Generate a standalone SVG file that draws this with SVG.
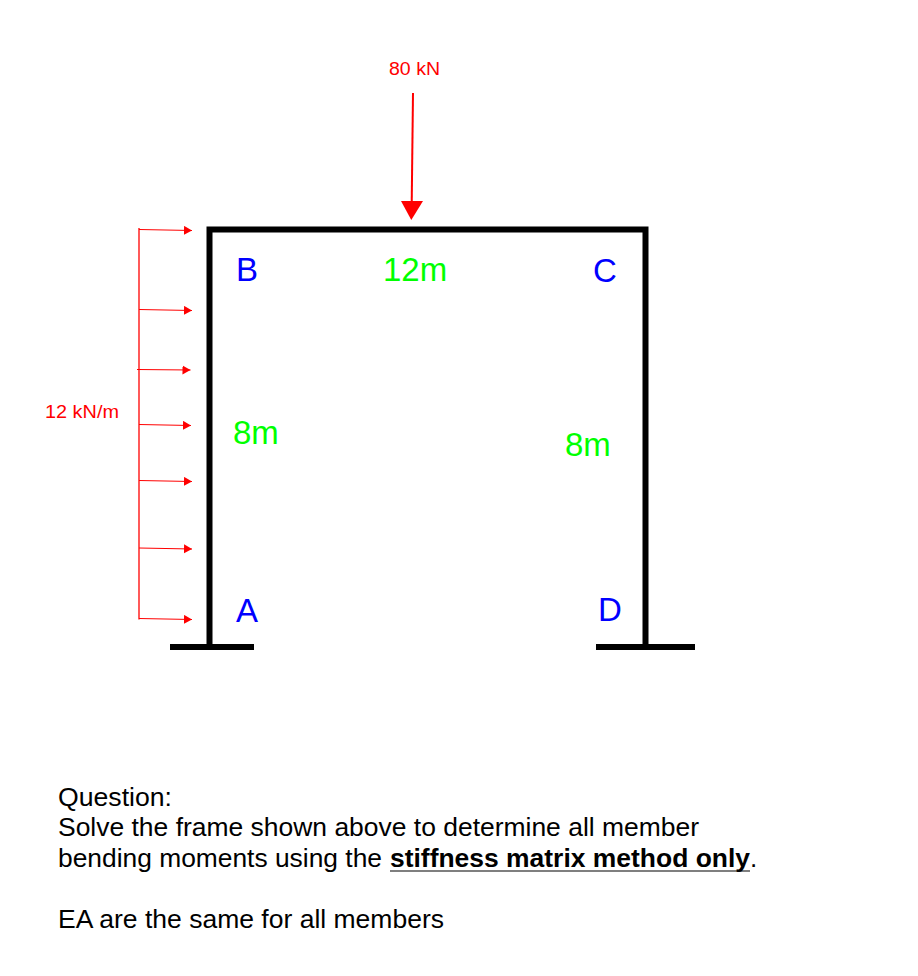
<svg xmlns="http://www.w3.org/2000/svg" width="918" height="976" viewBox="0 0 918 976">
<defs><marker id="a" markerUnits="userSpaceOnUse" markerWidth="10" markerHeight="10" refX="8" refY="4.500" orient="auto"><path d="M0 0L8 4.500L0 9Z" fill="#f00"/></marker></defs>
<style>
text{font-family:"Liberation Sans",Arial,sans-serif}
.load{font-size:18px;fill:#f00}
.joint{font-size:33px;fill:#00f}
.dim{font-size:33px;fill:#0f0}
.q{font-size:26px;fill:#000}
.frame{fill:none;stroke:#000;stroke-width:6}
.lr{stroke:#f00;stroke-width:1.3;fill:none}
.la{stroke:#f00;stroke-width:1.2;fill:none;marker-end:url(#a)}
</style>
<rect width="918" height="976" fill="#fff"/>
<g id="connectors">
<path class="frame" d="M209.500 647V229.500H645.500V647"/>
<path class="frame" d="M170 647H254M596 647H695"/>
<path d="M413 93L411.700 204" stroke="#f00" stroke-width="2" fill="none"/>
<path d="M401 201H423L411.300 220Z" fill="#f00"/>
<path class="lr" d="M139 228V619.500"/>
<path class="la" d="M139 229.500L192 230.500"/>
<path class="la" d="M139 309.500L192 310.500"/>
<path class="la" d="M137 369.500L190.500 370"/>
<path class="la" d="M139 424.500L191 425.500"/>
<path class="la" d="M139 480.500L192 481.500"/>
<path class="la" d="M139 548L192 549"/>
<path class="la" d="M139 618.500L192 619.500"/>
<path d="M390 871H750" stroke="#555" stroke-width="1.5"/>
</g>
<g id="load-80"><text class="load" x="389" y="75" textLength="51" lengthAdjust="spacingAndGlyphs">80 kN</text></g>
<g id="load-12"><text class="load" x="45" y="418" textLength="74" lengthAdjust="spacingAndGlyphs">12 kN/m</text></g>
<g id="node-b"><text class="joint" x="236" y="281">B</text></g>
<g id="node-c"><text class="joint" x="593" y="282">C</text></g>
<g id="node-a"><text class="joint" x="236" y="622">A</text></g>
<g id="node-d"><text class="joint" x="598" y="621">D</text></g>
<g id="dim-12"><text class="dim" x="383" y="281">12m</text></g>
<g id="dim-8l"><text class="dim" x="233" y="444">8m</text></g>
<g id="dim-8r"><text class="dim" x="565" y="456">8m</text></g>
<g id="question">
<text class="q" x="58" y="806" textLength="114" lengthAdjust="spacingAndGlyphs">Question:</text>
<text class="q" x="58" y="836" textLength="641" lengthAdjust="spacingAndGlyphs">Solve the frame shown above to determine all member</text>
<text class="q" x="58" y="867" textLength="324" lengthAdjust="spacingAndGlyphs">bending moments using the</text>
<text class="q" x="390" y="867" font-weight="bold" textLength="360" lengthAdjust="spacingAndGlyphs">stiffness matrix method only</text>
<text class="q" x="750" y="867">.</text>
<text class="q" x="58" y="928" textLength="386" lengthAdjust="spacingAndGlyphs">EA are the same for all members</text>
</g>
</svg>
